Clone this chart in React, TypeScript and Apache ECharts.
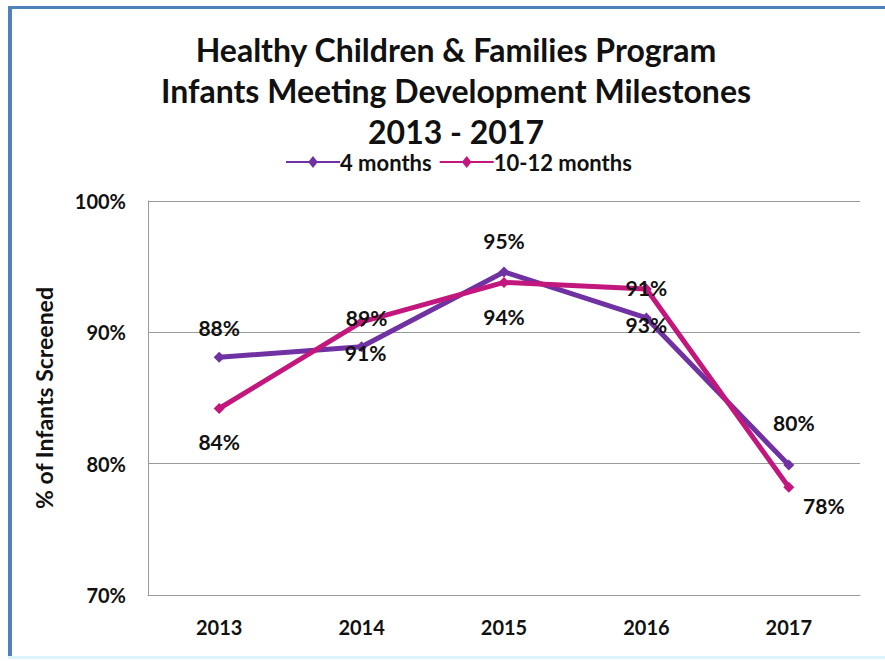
import React, { useEffect, useRef } from "react";
import * as echarts from "echarts";

const titleLines = [
  "Healthy Children & Families Program",
  "Infants Meeting Development Milestones",
  "2013 - 2017",
];
const years = ["2013", "2014", "2015", "2016", "2017"];
const fourMonths = [88.1, 88.9, 94.6, 91.1, 79.9];
const tenTwelveMonths = [84.2, 90.8, 93.8, 93.3, 78.2];
const fourMonthsLabels = ["88%", "91%", "95%", "93%", "80%"];
const tenTwelveLabels = ["84%", "89%", "94%", "91%", "78%"];
const yTicks = [70, 80, 90, 100];
const yAxisName = "% of Infants Screened";

const FONT = "Lato, 'Open Sans', sans-serif";
const PURPLE = "#7032A2";
const MAGENTA = "#C2177C";

// label placements (style only)
const fourOffsets: [number, number][] = [[0, -30], [4, 6], [0, -31], [0, 7], [5, -42]];
const tenOffsets: [number, number][] = [[0, 33], [5, -4], [0, 34], [0, -1], [35, 18]];

export default function App() {
  const ref = useRef<HTMLDivElement>(null);
  useEffect(() => {
    if (!ref.current) return;
    const chart = echarts.init(ref.current, null, { renderer: "svg" });
    const mk = (vals: number[], labels: string[], offs: [number, number][]) =>
      vals.map((v, i) => ({
        value: v,
        label: {
          show: true,
          position: "inside",
          offset: offs[i],
          formatter: () => labels[i],
          fontFamily: FONT,
          fontWeight: "bold",
          fontSize: 21,
          color: "#111",
        },
      }));
    chart.setOption({
      animation: false,
      backgroundColor: "#ffffff",
      title: {
        text: titleLines.join("\n"),
        left: 451,
        top: 24,
        textAlign: "center",
        textStyle: {
          fontFamily: FONT,
          fontWeight: "bold",
          fontSize: 32,
          lineHeight: 41,
          color: "#111",
        },
      },
      legend: {
        top: 146,
        left: 281,
        data: ["4 months", "10-12 months"],
        itemWidth: 54,
        itemHeight: 12,
        itemGap: 8,
        icon: "path://M0,5 L23,5 L27,0 L31,5 L54,5 L54,7 L31,7 L27,12 L23,7 L0,7 Z",
        textStyle: {
          fontFamily: FONT,
          fontWeight: "bold",
          fontSize: 22,
          color: "#111",
          padding: [0, 0, 0, -5],
        },
      },
      grid: { left: 148, right: 25, top: 201, bottom: 66 },
      xAxis: {
        type: "category",
        data: years,
        axisLine: { lineStyle: { color: "#9a9a9a", width: 1 } },
        axisTick: { show: false },
        axisLabel: {
          margin: 22,
          fontFamily: FONT,
          fontWeight: "bold",
          fontSize: 20,
          color: "#111",
        },
      },
      yAxis: {
        type: "value",
        min: yTicks[0],
        max: yTicks[yTicks.length - 1],
        interval: 10,
        name: yAxisName,
        nameLocation: "middle",
        nameGap: 93,
        nameTextStyle: {
          fontFamily: FONT,
          fontWeight: "bold",
          fontSize: 23,
          color: "#111",
        },
        axisLine: { show: true, lineStyle: { color: "#9a9a9a", width: 1 } },
        axisTick: { show: false },
        splitLine: { lineStyle: { color: "#9a9a9a", width: 1 } },
        axisLabel: {
          margin: 22,
          formatter: (v: number) => `${v}%`,
          fontFamily: FONT,
          fontWeight: "bold",
          fontSize: 20,
          color: "#111",
        },
      },
      series: [
        {
          name: "4 months",
          type: "line",
          data: mk(fourMonths, fourMonthsLabels, fourOffsets),
          symbol: "diamond",
          symbolSize: 11,
          lineStyle: { color: PURPLE, width: 5 },
          itemStyle: { color: PURPLE },
          z: 3,
        },
        {
          name: "10-12 months",
          type: "line",
          data: mk(tenTwelveMonths, tenTwelveLabels, tenOffsets),
          symbol: "diamond",
          symbolSize: 11,
          lineStyle: { color: MAGENTA, width: 5 },
          itemStyle: { color: MAGENTA },
          z: 4,
        },
      ],
      graphic: [
        { type: "rect", shape: { x: 8, y: 6, width: 877, height: 3 }, style: { fill: "#4F81BD" } },
        { type: "rect", shape: { x: 8, y: 6, width: 4, height: 652 }, style: { fill: "#4F81BD" } },
        { type: "rect", shape: { x: 8, y: 656, width: 877, height: 3 }, style: { fill: "#DDF3FB" } },
      ],
    });
    return () => chart.dispose();
  }, []);
  return (
    <div
      ref={ref}
      style={{ position: "fixed", left: 0, top: 0, width: 885, height: 661 }}
    />
  );
}
